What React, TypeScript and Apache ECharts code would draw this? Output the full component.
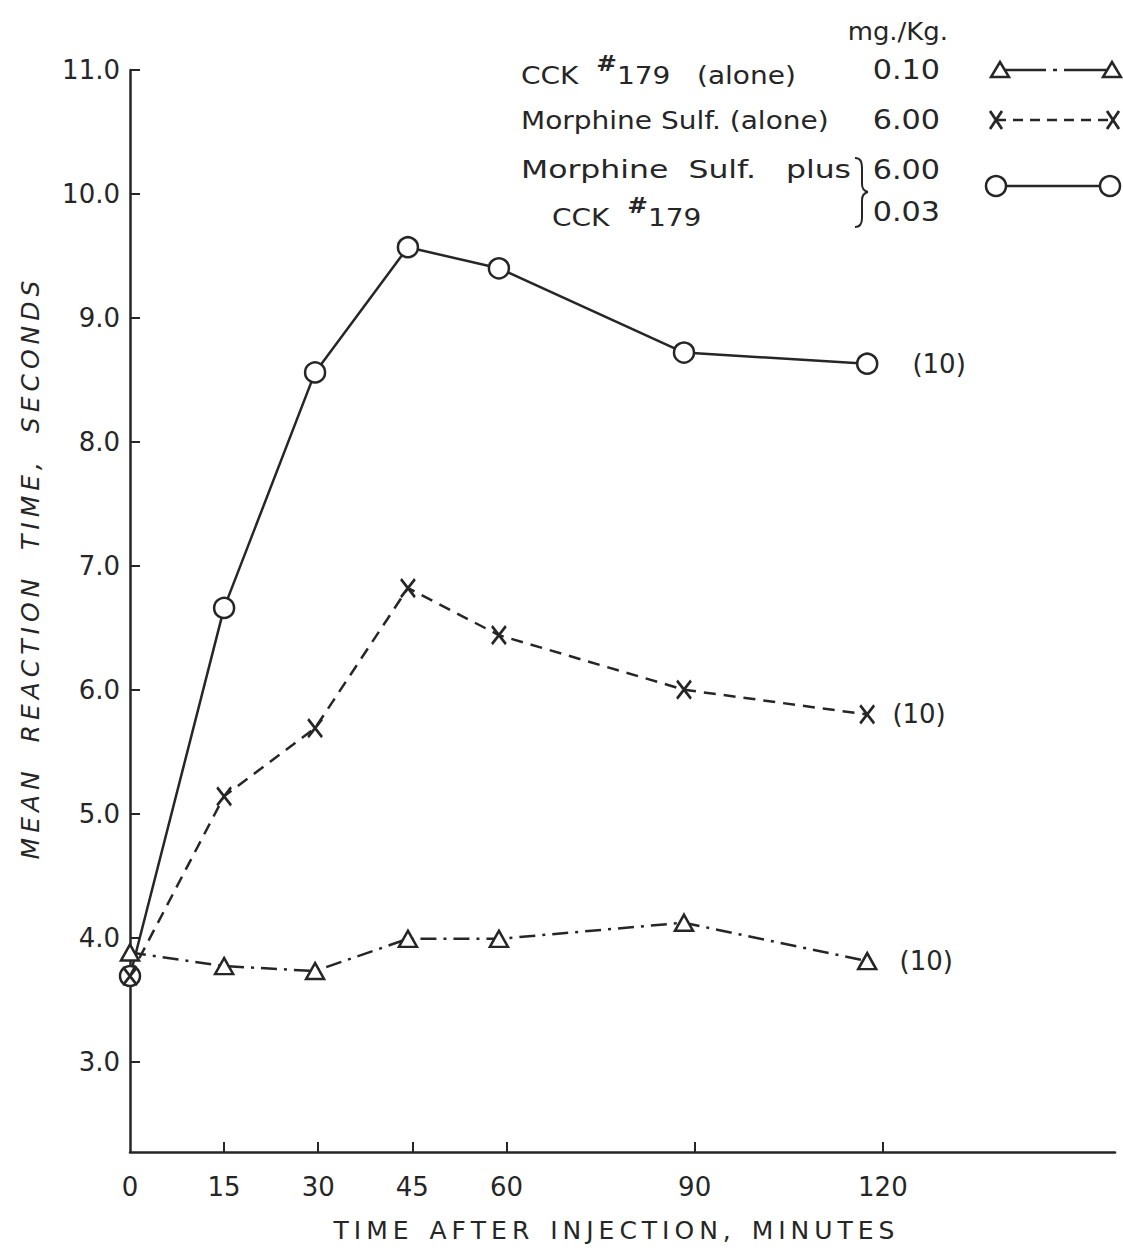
import React, { useEffect, useRef } from "react";
import * as echarts from "echarts";

// Data
const times = [0, 15, 29.5, 44.3, 58.8, 88.3, 117.5];
const morphinePlusCck = [3.69, 6.66, 8.56, 9.57, 9.4, 8.72, 8.63];
const morphineAlone = [3.69, 5.14, 5.69, 6.82, 6.44, 6.0, 5.8];
const cckAlone = [3.88, 3.77, 3.73, 3.99, 3.99, 4.12, 3.81];
const yTicks = [3, 4, 5, 6, 7, 8, 9, 10, 11];
const xLabels = [0, 15, 30, 45, 60, 90, 120];
const xTicks = [15, 30, 45, 60, 90, 120];
const nLabel = "(10)";

const INK = "#262626";
const FONT = "DejaVu Sans";
const TS = "\u2009"; // thin space used for letter spacing

const spaced = (s: string, wordGap: string) =>
  s
    .split(" ")
    .map((w) => w.split("").join(TS))
    .join(wordGap);

export default function App() {
  const ref = useRef<HTMLDivElement>(null);
  useEffect(() => {
    document.body.style.margin = "0";
    const chart = echarts.init(ref.current!, null, { renderer: "svg" });
    const last = times.length - 1;
    const endLabel = (dist: number) => ({
      show: true,
      position: "right",
      distance: dist,
      color: INK,
      fontFamily: FONT,
      fontSize: 26,
      formatter: (p: any) => (p.dataIndex === last ? nLabel : ""),
    });
    const toData = (vals: number[]) => times.map((t, i) => [t, vals[i]]);

    const txt = (x: number, y: number, text: string, align = "left", size = 25, sx = 1.12) => ({
      type: "text",
      x,
      y,
      scaleX: sx,
      style: { text, fill: INK, font: `${size}px "${FONT}"`, textAlign: align, textVerticalAlign: "middle" },
    });
    const tri = (cx: number, cy: number) => ({
      type: "polygon",
      shape: { points: [[cx, cy - 8], [cx + 9, cy + 7], [cx - 9, cy + 7]] },
      style: { fill: "#fff", stroke: INK, lineWidth: 2.5 },
      z: 5,
    });
    const seg = (x1: number, y1: number, x2: number, y2: number, w = 2.5) => ({
      type: "line",
      shape: { x1, y1, x2, y2 },
      style: { stroke: INK, lineWidth: w },
    });
    const xm = (cx: number, cy: number) => ({
      type: "group",
      children: [seg(cx - 6, cy - 9, cx + 6, cy + 9, 2.8), seg(cx + 6, cy - 9, cx - 6, cy + 9, 2.8)],
    });
    const circ = (cx: number, cy: number) => ({
      type: "circle",
      shape: { cx, cy, r: 10 },
      style: { fill: "#fff", stroke: INK, lineWidth: 2.5 },
      z: 5,
    });
    const cckRich = (x: number, y: number, rest: string) => ({
      type: "text",
      x,
      y,
      scaleX: 1.12,
      style: {
        text: `{a|CCK  }{s|#}{a|${rest}}`,
        textVerticalAlign: "middle",
        rich: {
          a: { fill: INK, fontFamily: FONT, fontSize: 25, lineHeight: 36, verticalAlign: "bottom" },
          s: { fill: INK, fontFamily: FONT, fontSize: 22, lineHeight: 36, verticalAlign: "top", fontWeight: "bold" },
        },
      },
    });
    const bz = (x1: number, y1: number, c1x: number, c1y: number, c2x: number, c2y: number, x2: number, y2: number) => ({
      type: "bezierCurve",
      shape: { x1, y1, cpx1: c1x, cpy1: c1y, cpx2: c2x, cpy2: c2y, x2, y2 },
      style: { stroke: INK, lineWidth: 2, fill: null },
    });

    chart.setOption({
      animation: false,
      backgroundColor: "#fff",
      grid: { left: 130, right: 8, top: 70, bottom: 103, containLabel: false },
      xAxis: {
        type: "value",
        min: 0,
        max: 157,
        axisLine: { lineStyle: { color: INK, width: 2.5 } },
        axisTick: { show: true, inside: true, length: 10, customValues: xTicks, lineStyle: { color: INK, width: 2 } },
        axisLabel: { customValues: xLabels, margin: 22, color: INK, fontFamily: FONT, fontSize: 26 },
        splitLine: { show: false },
      },
      yAxis: {
        type: "value",
        min: 2.27,
        max: 11,
        axisLine: { show: true, lineStyle: { color: INK, width: 2.5 } },
        axisTick: { show: true, inside: true, length: 10, customValues: yTicks, lineStyle: { color: INK, width: 2 } },
        axisLabel: {
          customValues: yTicks,
          margin: 10,
          color: INK,
          fontFamily: FONT,
          fontSize: 26,
          formatter: (v: number) => v.toFixed(1),
        },
        splitLine: { show: false },
      },
      series: [
        {
          type: "line",
          data: toData(morphinePlusCck),
          symbol: "circle",
          symbolSize: 20,
          itemStyle: { color: "#fff", borderColor: INK, borderWidth: 2.5 },
          lineStyle: { color: INK, width: 2.5 },
          label: endLabel(34),
          z: 3,
        },
        {
          type: "line",
          data: toData(morphineAlone),
          symbol: "path://M0,0L10,13M10,0L0,13",
          symbolSize: [14, 18],
          itemStyle: { color: "none", borderColor: INK, borderWidth: 2.8 },
          lineStyle: { color: INK, width: 2.5, type: [12, 8] },
          label: endLabel(16),
          z: 4,
        },
        {
          type: "line",
          data: toData(cckAlone),
          symbol: "triangle",
          symbolSize: [18, 16],
          itemStyle: { color: "#fff", borderColor: INK, borderWidth: 2.5 },
          lineStyle: { color: INK, width: 2.5, type: [16, 7, 3, 7] },
          label: endLabel(22),
          z: 5,
        },
      ],
      graphic: [
        {
          type: "text",
          x: 30,
          y: 570,
          rotation: Math.PI / 2,
          style: {
            text: spaced("MEAN REACTION TIME, SECONDS", "   " + TS),
            fill: INK,
            font: `italic 25px "${FONT}"`,
            textAlign: "center",
            textVerticalAlign: "middle",
          },
        },
        txt(614, 1230, spaced("TIME AFTER INJECTION, MINUTES", "  " + TS), "center", 25, 1),
        txt(948, 32, "mg./Kg.", "right", 24, 1.08),
        cckRich(521, 70, "179   (alone)"),
        txt(940, 70, "0.10", "right", 27),
        txt(521, 120, "Morphine Sulf. (alone)"),
        txt(940, 120, "6.00", "right", 27),
        txt(521, 170, "Morphine  Sulf.   plus", "left", 25, 1.26),
        txt(940, 170, "6.00", "right", 27),
        cckRich(552, 212, "179"),
        txt(940, 212, "0.03", "right", 27),
        // brace
        bz(855, 158, 861, 158, 862, 162, 862, 170),
        seg(862, 170, 862, 184, 2),
        bz(862, 184, 862, 189, 864, 191, 868, 192),
        bz(868, 192, 864, 193, 862, 195, 862, 200),
        seg(862, 200, 862, 218, 2),
        bz(862, 218, 862, 224, 860, 227, 855, 227),
        // legend samples
        seg(1000, 70, 1046, 70),
        seg(1053, 70, 1057, 70),
        seg(1064, 70, 1112, 70),
        tri(1000, 70),
        tri(1112, 70),
        {
          type: "polyline",
          shape: { points: [[996, 120], [1113, 120]] },
          style: { stroke: INK, lineWidth: 2.5, lineDash: [10, 7] },
        },
        xm(996, 120),
        xm(1113, 120),
        seg(996, 186, 1110, 186),
        circ(996, 186),
        circ(1110, 186),
      ],
    });
    return () => chart.dispose();
  }, []);
  return <div ref={ref} style={{ width: 1123, height: 1255 }} />;
}
